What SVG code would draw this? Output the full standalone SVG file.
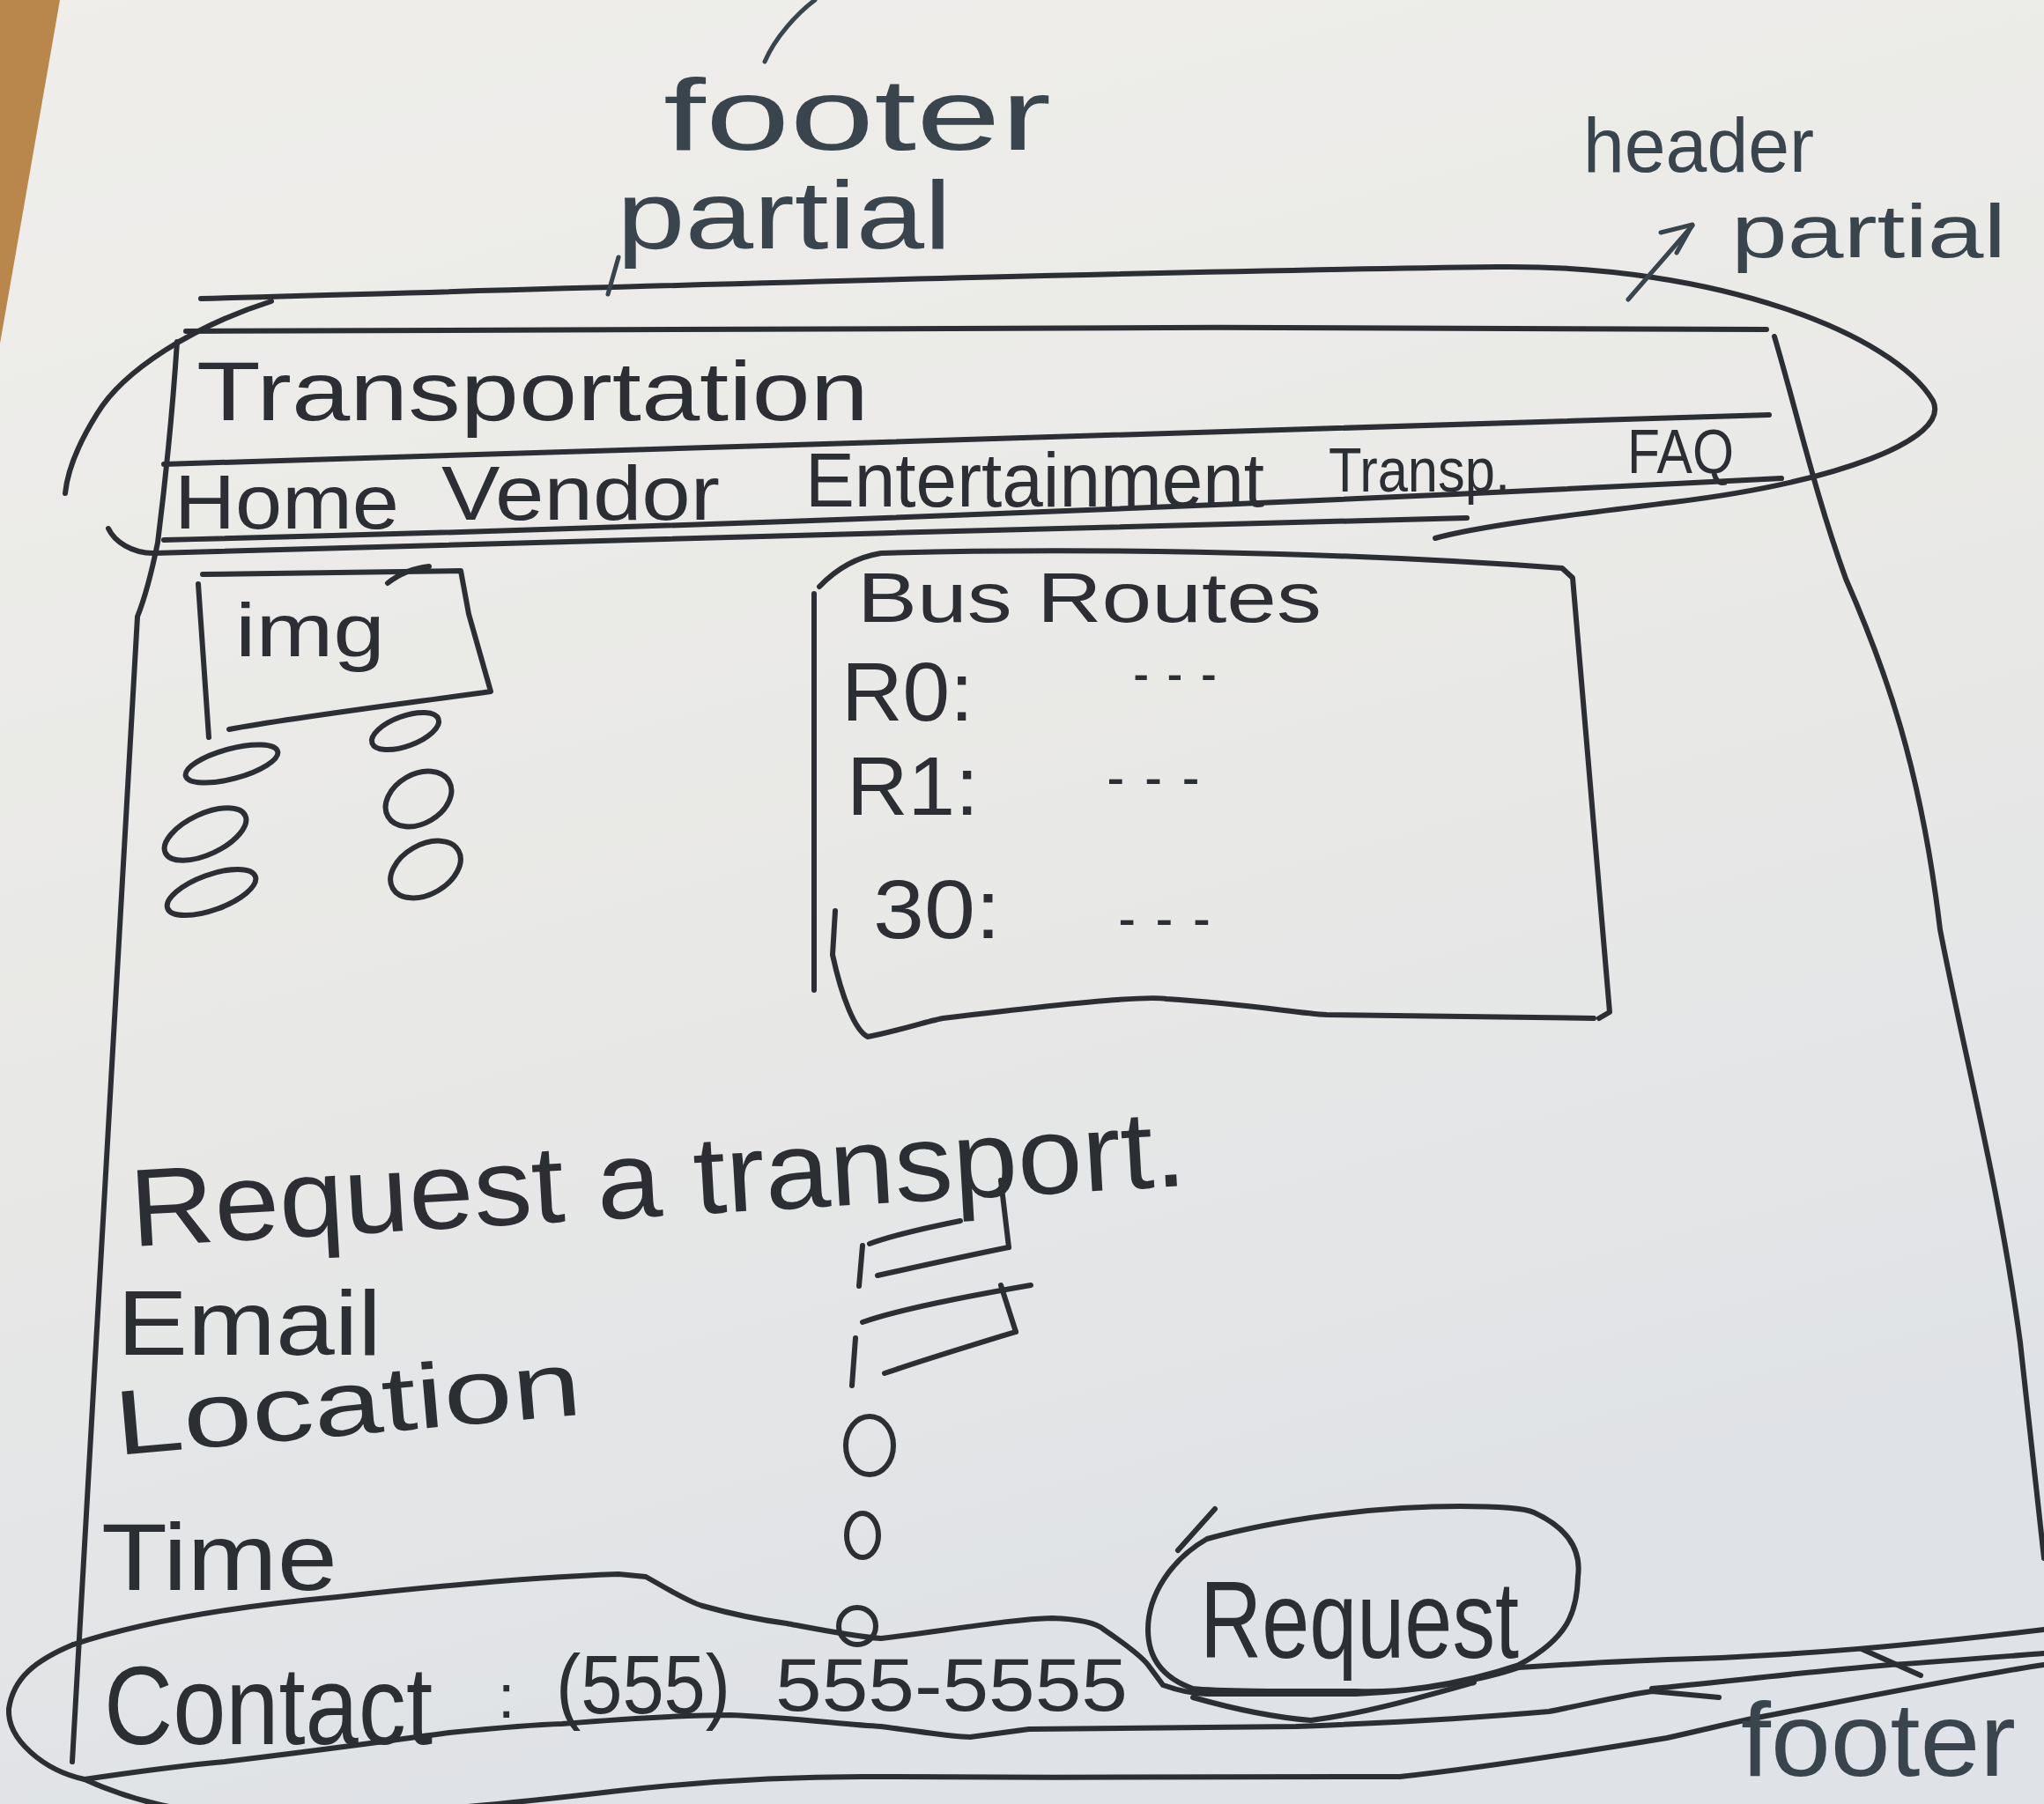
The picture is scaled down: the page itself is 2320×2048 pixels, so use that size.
<svg xmlns="http://www.w3.org/2000/svg" width="2320" height="2048" viewBox="0 0 2320 2048">
<defs>
<linearGradient id="paper" x1="0" y1="0" x2="0.3" y2="1">
<stop offset="0" stop-color="#efeeeb"/>
<stop offset="0.6" stop-color="#e8e8e6"/>
<stop offset="1" stop-color="#dfe2e6"/>
</linearGradient>
<style>
.ink{fill:none;stroke:#2b2f33;stroke-width:6;stroke-linecap:round;stroke-linejoin:round}
.pen{fill:none;stroke:#3a444d;stroke-width:5;stroke-linecap:round;stroke-linejoin:round}
.t{font-family:"Liberation Sans",Arial,sans-serif;fill:#2b2f33}
.n{font-family:"Liberation Sans",Arial,sans-serif;fill:#3a444d}
</style>
</defs>
<rect width="2320" height="2048" fill="url(#paper)"/>
<polygon points="0,0 68,0 0,390" fill="#b9874c"/>

<g id="footer-partial-label">
<path class="pen" d="M 868 70 C 880 42 905 15 925 0"/>
<text class="n" x="753" y="170" font-size="115" textLength="440" lengthAdjust="spacingAndGlyphs">footer</text>
<text class="n" x="700" y="282" font-size="110" textLength="380" lengthAdjust="spacingAndGlyphs">partial</text>
</g>

<g id="header-partial-label">
<text class="n" x="1797" y="195" font-size="88" textLength="262" lengthAdjust="spacingAndGlyphs">header</text>
<text class="n" x="1965" y="292" font-size="86" textLength="312" lengthAdjust="spacingAndGlyphs">partial</text>
</g>

<g id="header-oval">
<path class="ink" d="M 228 339 C 700 326 1300 308 1700 303 C 1950 300 2150 380 2194 455 C 2215 500 2080 548 1900 570 C 1780 585 1680 597 1629 611"/>
<path class="ink" d="M 1665 588 C 1200 598 600 618 174 628 C 150 628 130 615 123 600"/>
<path class="ink" d="M 308 342 C 220 370 140 420 110 470 C 85 510 76 540 74 560"/>
</g>

<g id="page-frame">
<path class="ink" d="M 211 376 C 600 372 1400 370 2005 374"/>
<path class="ink" d="M 201 388 C 195 480 186 560 179 616 C 170 660 160 690 156 700 C 140 1000 110 1500 82 2000"/>
<path class="ink" d="M 2014 382 C 2040 470 2060 560 2095 657 C 2140 760 2180 870 2202 1055 C 2230 1200 2270 1350 2293 1524 L 2320 1769"/>
</g>

<g id="header-box">
<text class="t" x="223" y="477" font-size="94" textLength="763" lengthAdjust="spacingAndGlyphs">Transportation</text>
<path class="ink" d="M 186 527 C 700 515 1300 495 2008 471"/>
</g>

<g id="nav-bar">
<text class="t" x="198" y="600" font-size="88" textLength="255" lengthAdjust="spacingAndGlyphs">Home</text>
<text class="t" x="501" y="590" font-size="88" textLength="316" lengthAdjust="spacingAndGlyphs">Vendor</text>
<text class="t" x="914" y="575" font-size="88" textLength="521" lengthAdjust="spacingAndGlyphs">Entertainment</text>
<text class="t" x="1508" y="558" font-size="70" textLength="206" lengthAdjust="spacingAndGlyphs">Transp.</text>
<text class="t" x="1847" y="537" font-size="70" textLength="121" lengthAdjust="spacingAndGlyphs">FAQ</text>
<path class="ink" d="M 186 613 C 600 603 1200 585 2022 543"/>
</g>

<g id="image-box">
<path class="ink" d="M 230 652 C 330 650 430 650 523 648 L 532 697 L 557 785 C 450 800 330 815 260 828"/>
<path class="ink" d="M 225 663 L 237 837"/>
<path class="ink" d="M 440 662 C 455 650 470 645 487 643"/>
<text class="t" x="267" y="745" font-size="85" textLength="170" lengthAdjust="spacingAndGlyphs">img</text>
</g>

<g id="image-dots">
<ellipse class="ink" cx="263" cy="867" rx="54" ry="17" transform="rotate(-15 263 867)"/>
<ellipse class="ink" cx="233" cy="947" rx="50" ry="23" transform="rotate(-25 233 947)"/>
<ellipse class="ink" cx="240" cy="1013" rx="53" ry="20" transform="rotate(-20 240 1013)"/>
<ellipse class="ink" cx="460" cy="830" rx="40" ry="17" transform="rotate(-20 460 830)"/>
<ellipse class="ink" cx="475" cy="907" rx="40" ry="28" transform="rotate(-30 475 907)"/>
<ellipse class="ink" cx="483" cy="987" rx="43" ry="28" transform="rotate(-30 483 987)"/>
</g>

<g id="bus-routes">
<path class="ink" d="M 924 674 L 924 1124"/>
<path class="ink" d="M 930 666 C 950 645 975 632 1000 628 C 1200 622 1500 625 1773 645 L 1785 656 L 1827 1149 L 1815 1156"/>
<path class="ink" d="M 948 1034 L 945 1084 C 955 1130 970 1170 985 1177 C 1020 1170 1050 1160 1070 1156 C 1200 1140 1300 1130 1324 1134 C 1420 1140 1470 1150 1506 1152 L 1809 1156"/>
<text class="t" x="973" y="706" font-size="80" textLength="527" lengthAdjust="spacingAndGlyphs">Bus Routes</text>
<text class="t" x="955" y="818" font-size="94" textLength="150" lengthAdjust="spacingAndGlyphs">R0:</text>
<text class="t" x="1276" y="772" font-size="50" textLength="115" lengthAdjust="spacingAndGlyphs">...</text>
<text class="t" x="961" y="925" font-size="94" textLength="150" lengthAdjust="spacingAndGlyphs">R1:</text>
<text class="t" x="1245" y="890" font-size="50" textLength="128" lengthAdjust="spacingAndGlyphs">...</text>
<text class="t" x="991" y="1065" font-size="94" textLength="145" lengthAdjust="spacingAndGlyphs">30:</text>
<text class="t" x="1258" y="1050" font-size="50" textLength="127" lengthAdjust="spacingAndGlyphs">...</text>
</g>

<g id="request-form">
<text class="t" x="150" y="1415" font-size="125" textLength="1200" lengthAdjust="spacingAndGlyphs" transform="rotate(-3.3 150 1415)">Request a transport.</text>
<text class="t" x="133" y="1538" font-size="104" textLength="300" lengthAdjust="spacingAndGlyphs">Email</text>
<text class="t" x="133" y="1652" font-size="104" textLength="531" lengthAdjust="spacingAndGlyphs" transform="rotate(-5 133 1652)">Location</text>
<text class="t" x="115" y="1805" font-size="108" textLength="268" lengthAdjust="spacingAndGlyphs">Time</text>
</g>

<g id="email-input">
<path class="ink" d="M 987 1412 C 1020 1400 1060 1392 1090 1386"/>
<path class="ink" d="M 979 1414 L 975 1460"/>
<path class="ink" d="M 996 1448 C 1050 1436 1100 1425 1145 1416"/>
<path class="ink" d="M 1136 1340 L 1145 1416"/>
</g>

<g id="location-input">
<path class="ink" d="M 979 1501 C 1010 1490 1060 1478 1170 1459"/>
<path class="ink" d="M 1136 1459 L 1153 1512"/>
<path class="ink" d="M 1004 1559 C 1060 1540 1110 1525 1153 1512"/>
<path class="ink" d="M 971 1519 L 967 1573"/>
</g>

<g id="radio-options">
<ellipse class="ink" cx="987" cy="1641" rx="27" ry="33"/>
<ellipse class="ink" cx="979" cy="1743" rx="18" ry="25"/>
<ellipse class="ink" cx="973" cy="1846" rx="21" ry="21"/>
</g>

<g id="request-button">
<path class="ink" d="M 1370 1747 C 1450 1725 1560 1710 1657 1710 C 1700 1710 1730 1712 1741 1717 C 1780 1735 1795 1760 1791 1790 C 1790 1830 1780 1860 1724 1890 C 1650 1915 1580 1922 1539 1920 C 1450 1920 1380 1920 1354 1917 C 1320 1905 1303 1883 1303 1850 C 1303 1810 1330 1770 1370 1747 Z"/>
<path class="ink" d="M 1379 1713 L 1337 1760"/>
<text class="t" x="1362" y="1882" font-size="125" textLength="362" lengthAdjust="spacingAndGlyphs">Request</text>
</g>

<g id="footer">
<path class="ink" d="M 83 1867 C 150 1845 250 1825 383 1813 C 500 1800 620 1790 702 1787 L 733 1790 C 760 1805 780 1818 797 1823 C 840 1835 870 1840 893 1843 C 930 1850 970 1858 1000 1860 C 1080 1850 1150 1838 1194 1837 C 1225 1838 1245 1843 1253 1850 C 1275 1865 1295 1880 1303 1890 L 1320 1913 C 1340 1920 1355 1923 1370 1923 L 1539 1923 C 1620 1920 1690 1905 1724 1893 C 1800 1888 1850 1885 1926 1883 C 2050 1878 2150 1870 2320 1850"/>
<path class="ink" d="M 83 1867 C 40 1885 15 1905 10 1940 C 8 1975 50 2010 96 2020"/>
<path class="ink" d="M 96 2020 C 150 2012 200 2005 255 2000 C 380 1985 450 1975 510 1967 C 560 1962 600 1958 638 1957 C 700 1952 770 1947 829 1947 C 900 1950 960 1958 1000 1960 C 1040 1965 1080 1972 1101 1972 L 1168 1963 C 1300 1962 1400 1961 1471 1960 C 1600 1955 1700 1948 1758 1943 C 1800 1935 1840 1925 1875 1920 L 1951 1927"/>
<path class="ink" d="M 1875 1917 C 1950 1910 2050 1898 2145 1890 C 2220 1885 2280 1880 2320 1877"/>
<path class="ink" d="M 2113 1872 L 2180 1902"/>
<path class="ink" d="M 1354 1927 C 1400 1940 1450 1950 1488 1953 C 1550 1945 1620 1925 1673 1910"/>
<path class="ink" d="M 96 2020 C 140 2040 200 2060 300 2062 C 450 2062 600 2045 702 2033 C 800 2022 900 2016 1000 2017 C 1200 2018 1450 2018 1589 2017 C 1700 2005 1820 1985 1892 1973 C 1950 1960 1980 1952 2010 1947 C 2150 1920 2250 1900 2320 1890"/>
<text class="t" x="118" y="1980" font-size="126" textLength="373" lengthAdjust="spacingAndGlyphs">Contact</text>
<text class="t" x="565" y="1950" font-size="70">:</text>
<text class="t" x="631" y="1945" font-size="95" textLength="198" lengthAdjust="spacingAndGlyphs">(555)</text>
<text class="t" x="880" y="1942" font-size="85" textLength="400" lengthAdjust="spacingAndGlyphs">555-5555</text>
</g>

<g id="footer-label">
<text class="n" x="1976" y="2016" font-size="118" textLength="312" lengthAdjust="spacingAndGlyphs">footer</text>
</g>

<g id="connectors">
<path class="pen" d="M 702 292 L 690 334"/>
<path class="pen" d="M 1848 340 L 1921 256"/>
<path class="pen" d="M 1885 264 L 1921 255 L 1903 287"/>
</g>
</svg>
